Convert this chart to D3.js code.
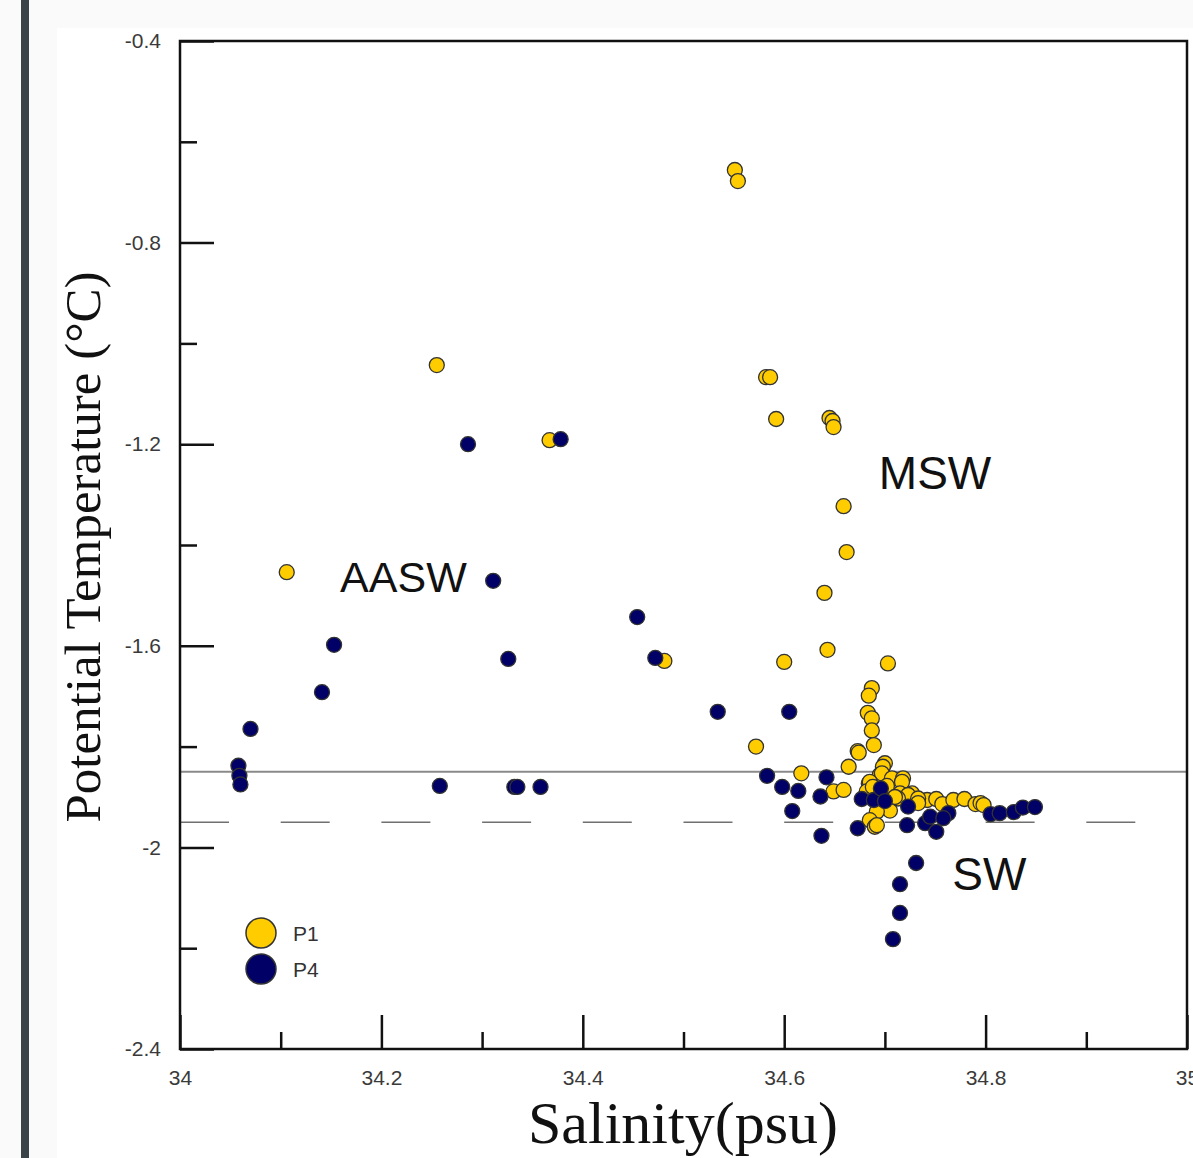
<!DOCTYPE html>
<html>
<head>
<meta charset="utf-8">
<script src="https://d3js.org/d3.v7.min.js"></script>
<style>
  body { margin: 0; background: #fafafa; }
  svg { display: block; }
</style>
</head>
<body>
<div id="chart"></div>
<script>
// T-S diagram, stations P1 and P4

// salinity (psu) / potential temperature (degC)
var p1Sal = [34.551, 34.554, 34.582, 34.586, 34.592, 34.645, 34.648, 34.649, 34.255, 34.367,
             34.106, 34.659, 34.662, 34.640, 34.643, 34.600, 34.481, 34.703, 34.687, 34.684,
             34.683, 34.687, 34.687, 34.689, 34.572, 34.673, 34.674, 34.664, 34.617, 34.649,
             34.659, 34.700, 34.698, 34.695, 34.697, 34.684, 34.685, 34.682, 34.707, 34.718,
             34.717, 34.715, 34.727, 34.723, 34.733, 34.742, 34.751, 34.757, 34.768, 34.779,
             34.790, 34.795, 34.798, 34.705, 34.692, 34.685, 34.690, 34.692, 34.698, 34.713,
             34.733, 34.733, 34.688, 34.702, 34.710];
var p1Temp = [-0.656, -0.678, -1.067, -1.067, -1.150, -1.148, -1.154, -1.166, -1.043, -1.192,
              -1.454, -1.323, -1.414, -1.495, -1.608, -1.632, -1.630, -1.635, -1.684, -1.699,
              -1.733, -1.744, -1.768, -1.797, -1.800, -1.809, -1.812, -1.840, -1.853, -1.889,
              -1.886, -1.833, -1.840, -1.856, -1.853, -1.873, -1.870, -1.889, -1.863, -1.863,
              -1.870, -1.893, -1.893, -1.896, -1.909, -1.906, -1.904, -1.914, -1.906, -1.904,
              -1.914, -1.912, -1.916, -1.927, -1.929, -1.946, -1.959, -1.956, -1.889, -1.903,
              -1.903, -1.912, -1.880, -1.878, -1.900];

var p4Sal = [34.286, 34.378, 34.311, 34.454, 34.472, 34.153, 34.141, 34.326, 34.070, 34.058,
             34.059, 34.060, 34.258, 34.332, 34.335, 34.358, 34.534, 34.605, 34.583, 34.598,
             34.614, 34.642, 34.636, 34.608, 34.637, 34.673, 34.677, 34.689, 34.696, 34.700,
             34.723, 34.722, 34.740, 34.745, 34.751, 34.763, 34.758, 34.805, 34.814, 34.828,
             34.837, 34.849, 34.731, 34.715, 34.715, 34.708];
var p4Temp = [-1.200, -1.190, -1.471, -1.543, -1.624, -1.598, -1.692, -1.626, -1.765, -1.838,
              -1.858, -1.875, -1.878, -1.880, -1.880, -1.880, -1.731, -1.731, -1.858, -1.880,
              -1.888, -1.861, -1.899, -1.928, -1.977, -1.962, -1.904, -1.906, -1.883, -1.908,
              -1.919, -1.956, -1.952, -1.939, -1.969, -1.932, -1.942, -1.934, -1.932, -1.930,
              -1.921, -1.920, -2.031, -2.073, -2.130, -2.182];

var xMajor = [34, 34.2, 34.4, 34.6, 34.8, 35];
var xMinor = [34.1, 34.3, 34.5, 34.7, 34.9];
var yMajor = [-0.4, -0.8, -1.2, -1.6, -2, -2.4];
var yMinor = [-0.6, -1.0, -1.4, -1.8, -2.2];

var refSolid = -1.85;   // solid reference line
var refDashed = -1.95;  // dashed reference line

var labels = [
    {text: "MSW", s: 34.694, t: -1.289, size: 46},
    {text: "AASW", s: 34.159, t: -1.494, size: 43},
    {text: "SW", s: 34.767, t: -2.085, size: 46}
];

var series = [
    {name: "P1", sal: p1Sal, temp: p1Temp, color: "#ffcc00"},
    {name: "P4", sal: p4Sal, temp: p4Temp, color: "#000066"}
];

var totalWidth = 1193;
var totalHeight = 1158;

var margin = {left: 180, top: 41, right: 6, bottom: 109};

var x = d3.scaleLinear().domain([34, 35]).range([margin.left, totalWidth - margin.right]);
var y = d3.scaleLinear().domain([-0.4, -2.4]).range([margin.top, totalHeight - margin.bottom]);

var svg = d3.select('#chart')
    .append('svg')
        .attr('width', totalWidth)
        .attr('height', totalHeight);

// page bits: light background, white panel, dark bar at left
svg.append('rect').attr('width', totalWidth).attr('height', totalHeight).attr('fill', '#fafafa');
svg.append('rect').attr('x', 57).attr('y', 28).attr('width', totalWidth - 57).attr('height', totalHeight - 28).attr('fill', '#ffffff');
svg.append('rect').attr('x', 21).attr('y', 0).attr('width', 8).attr('height', totalHeight).attr('fill', '#3a4347');

// reference lines
svg.append('line')
    .attr('x1', x(34)).attr('x2', x(35))
    .attr('y1', y(refSolid)).attr('y2', y(refSolid))
    .attr('stroke', '#8a8a8a').attr('stroke-width', 2);
svg.append('line')
    .attr('x1', x(34)).attr('x2', x(34.95))
    .attr('y1', y(refDashed)).attr('y2', y(refDashed))
    .attr('stroke', '#707070').attr('stroke-width', 1.5)
    .attr('stroke-dasharray', '49,51.7');

// axes (ticks point inward)
var fontSans = "'Liberation Sans', Arial, sans-serif";
var fmt = function(d) { return String(d); };  // plain hyphen minus like the original

var xAxis = d3.axisBottom(x).tickValues(xMajor).tickFormat(fmt).tickSizeInner(-34).tickSizeOuter(0).tickPadding(21);
var xAxisMinor = d3.axisBottom(x).tickValues(xMinor).tickFormat('').tickSizeInner(-17).tickSizeOuter(0);
var yAxis = d3.axisLeft(y).tickValues(yMajor).tickFormat(fmt).tickSizeInner(-34).tickSizeOuter(0).tickPadding(19);
var yAxisMinor = d3.axisLeft(y).tickValues(yMinor).tickFormat('').tickSizeInner(-17).tickSizeOuter(0);

function styleAxis(g) {
    g.select('.domain').remove();
    g.selectAll('.tick line').attr('stroke', '#111').attr('stroke-width', 2.5);
    g.selectAll('.tick text').attr('fill', '#3a3a3a').style('font-family', fontSans).style('font-size', '21px');
}

svg.append('g').attr('transform', 'translate(0,' + y(-2.4) + ')').call(xAxis).call(styleAxis);
svg.append('g').attr('transform', 'translate(0,' + y(-2.4) + ')').call(xAxisMinor).call(styleAxis);
svg.append('g').attr('transform', 'translate(' + x(34) + ',0)').call(yAxis).call(styleAxis);
svg.append('g').attr('transform', 'translate(' + x(34) + ',0)').call(yAxisMinor).call(styleAxis);

// frame
svg.append('rect')
    .attr('x', x(34)).attr('y', y(-0.4))
    .attr('width', x(35) - x(34)).attr('height', y(-2.4) - y(-0.4))
    .attr('fill', 'none').attr('stroke', '#111').attr('stroke-width', 2.5);

// points, P1 first then P4 on top
series.forEach(function(s) {
    var pts = s.sal.map(function(v, i) { return {s: v, t: s.temp[i]}; });
    svg.append('g').selectAll('circle').data(pts).enter().append('circle')
        .attr('cx', function(d) { return x(d.s); })
        .attr('cy', function(d) { return y(d.t); })
        .attr('r', 7.5)
        .attr('fill', s.color)
        .attr('stroke', '#333')
        .attr('stroke-width', 1.3);
});

// water mass labels
svg.selectAll('text.wm').data(labels).enter().append('text')
    .attr('class', 'wm')
    .attr('x', function(d) { return x(d.s); })
    .attr('y', function(d) { return y(d.t); })
    .style('font-family', fontSans)
    .style('font-size', function(d) { return d.size + 'px'; })
    .attr('fill', '#111')
    .text(function(d) { return d.text; });

// legend
var legend = svg.append('g').attr('transform', 'translate(261,933)');
series.forEach(function(s, i) {
    legend.append('circle')
        .attr('cx', 0).attr('cy', i * 36).attr('r', 15)
        .attr('fill', s.color).attr('stroke', '#333').attr('stroke-width', 1.5);
    legend.append('text')
        .attr('x', 32).attr('y', i * 36 + 8)
        .style('font-family', fontSans).style('font-size', '21px')
        .attr('fill', '#333')
        .text(s.name);
});

// axis titles
var fontSerif = "'Liberation Serif', 'Times New Roman', serif";
svg.append('text')
    .attr('x', 683).attr('y', 1143)
    .attr('text-anchor', 'middle')
    .style('font-family', fontSerif).style('font-size', '60px')
    .attr('fill', '#111')
    .text('Salinity(psu)');
svg.append('text')
    .attr('transform', 'translate(100,547) rotate(-90)')
    .attr('text-anchor', 'middle')
    .style('font-family', fontSerif).style('font-size', '51px')
    .attr('fill', '#111')
    .text('Potential Temperature (°C)');
</script>
</body>
</html>
